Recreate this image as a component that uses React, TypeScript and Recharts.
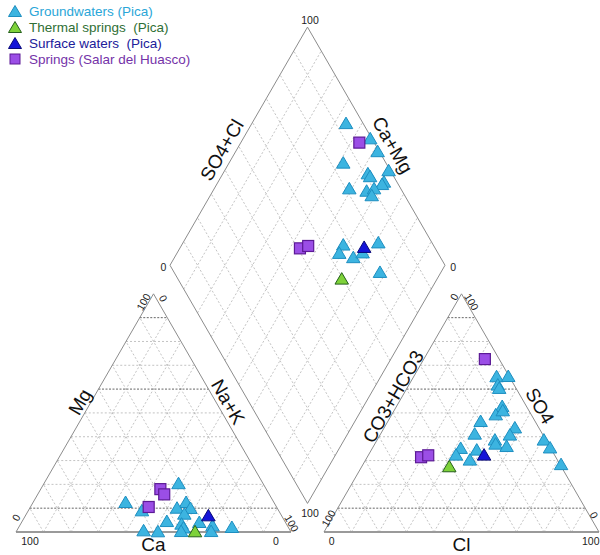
import React from "react";
import { ReferenceDot, ReferenceLine, Scatter, ScatterChart, XAxis, YAxis } from "recharts";

// ternary readings per group
// cations: [Mg, Na+K] %, anions: [SO4, Cl] %, diamond: [SO4+Cl, Ca+Mg] %
const groundCations = [
  [20.6, 48.8], [12.7, 33.5], [9.2, 41.2], [12.7, 55.5], [10.3, 53.4], [10.2, 58.3],
  [7.8, 57.3], [4.7, 52.5], [4.3, 64.5], [3.6, 58.4], [2.0, 59.9], [2.9, 70.0],
  [2.2, 77.4], [0.8, 46.0], [0.4, 51.4], [0.5, 70.7], [0.5, 59.8],
];
const groundAnions = [
  [65.5, 30.0], [65.6, 34.2], [62.0, 32.2], [60.6, 33.4], [53.0, 38.3], [49.5, 37.7],
  [51.2, 39.4], [46.7, 33.6], [44.0, 47.4], [41.0, 47.1], [41.4, 34.1], [38.9, 42.7],
  [37.2, 43.8], [36.2, 48.3], [38.9, 60.5], [35.6, 64.4], [35.4, 32.0], [32.6, 31.7],
  [34.7, 38.2], [30.5, 37.8], [28.6, 71.9],
];
const groundDiamond = [
  [93.9, 65.9], [99.5, 53.9], [99.5, 48.5], [84.6, 58.6], [99.5, 40.5], [91.3, 47.4],
  [91.5, 46.0], [95.4, 39.8], [94.2, 40.0], [81.4, 51.0], [87.2, 44.2], [90.4, 42.0],
  [88.1, 41.4], [67.4, 41.4], [64.2, 41.1], [68.4, 35.1], [72.8, 32.7], [80.6, 29.1],
  [75.0, 22.3],
];
const thermalCations = [[0.4, 64.9]];
const thermalAnions = [[27.7, 31.7]];
const thermalDiamond = [[59.7, 34.8]];
const surfaceCations = [[7.1, 66.4]];
const surfaceAnions = [[32.6, 41.9]];
const surfaceDiamond = [[74.5, 33.3]];
const springCations = [[18.0, 43.5], [15.8, 46.0], [10.5, 43.0]];
const springAnions = [[72.6, 22.2], [31.4, 19.6], [32.2, 21.8]];
const springDiamond = [[94.6, 56.9], [50.8, 56.3], [54.3, 53.8]];

const groupNames = ["Groundwaters (Pica)", "Thermal springs  (Pica)", "Surface waters  (Pica)", "Springs (Salar del Huasco)"];
const gridSteps = [10, 20, 30, 40, 50, 60, 70, 80, 90];
const darkSteps = [10, 60, 90];

const W = 600;
const H = 555;
const K = 2.75; // px per unit
const OX = 16;
const OY = 532;
const GAP = 12;
const S60 = Math.sqrt(3) / 2;
const FONT = "'Liberation Sans', Arial, sans-serif";

const cat = ([mg, nak]: number[]) => ({ x: nak + mg / 2, y: mg * S60 });
const ani = ([so4, cl]: number[]) => ({ x: 100 + GAP + cl + so4 / 2, y: so4 * S60 });
const dia = ([a, c]: number[]) => ({ x: 100 + GAP / 2 + (a - c) / 2, y: S60 * (GAP + a + c) });

const mk = (c: number[][], a: number[][], d: number[][]) => [...c.map(cat), ...a.map(ani), ...d.map(dia)];

const groups = [
  { name: groupNames[0], data: mk(groundCations, groundAnions, groundDiamond), shape: "tri", fill: "#3cb4e0", stroke: "#1d8ec0", text: "#2aa6d8" },
  { name: groupNames[3], data: mk(springCations, springAnions, springDiamond), shape: "sq", fill: "#9b4ee6", stroke: "#5c1a96", text: "#7432a8" },
  { name: groupNames[2], data: mk(surfaceCations, surfaceAnions, surfaceDiamond), shape: "tri", fill: "#1414d8", stroke: "#08087a", text: "#20209a" },
  { name: groupNames[1], data: mk(thermalCations, thermalAnions, thermalDiamond), shape: "tri", fill: "#7ed23a", stroke: "#25601c", text: "#2f6f35" },
];
const legendOrder = [0, 3, 2, 1];

type Seg = { a: { x: number; y: number }; b: { x: number; y: number }; kind: string };
const segs: Seg[] = [];
for (const ox of [0, 100 + GAP]) {
  for (const i of gridSteps) {
    const y = i * S60;
    segs.push({ a: { x: ox + i / 2, y }, b: { x: ox + 100 - i / 2, y }, kind: darkSteps.includes(i) ? "dark" : "grid" });
    segs.push({ a: { x: ox + i, y: 0 }, b: { x: ox + i + (100 - i) / 2, y: (100 - i) * S60 }, kind: "grid" });
    segs.push({ a: { x: ox + 100 - i, y: 0 }, b: { x: ox + (100 - i) / 2, y: (100 - i) * S60 }, kind: "grid" });
  }
  segs.push({ a: { x: ox, y: 0 }, b: { x: ox + 100, y: 0 }, kind: "base" });
  segs.push({ a: { x: ox, y: 0 }, b: { x: ox + 50, y: 100 * S60 }, kind: "edge" });
  segs.push({ a: { x: ox + 100, y: 0 }, b: { x: ox + 50, y: 100 * S60 }, kind: "edge" });
}
for (const i of gridSteps) {
  segs.push({ a: dia([i, 0]), b: dia([i, 100]), kind: "grid" });
  segs.push({ a: dia([0, i]), b: dia([100, i]), kind: "grid" });
}
segs.push({ a: dia([0, 0]), b: dia([100, 0]), kind: "edge" });
segs.push({ a: dia([0, 0]), b: dia([0, 100]), kind: "edge" });
segs.push({ a: dia([100, 0]), b: dia([100, 100]), kind: "edge" });
segs.push({ a: dia([0, 100]), b: dia([100, 100]), kind: "edge" });

const segStyle: Record<string, any> = {
  grid: { stroke: "#b4b4b4", strokeWidth: 0.8, strokeDasharray: "2 2" },
  dark: { stroke: "#555", strokeWidth: 0.9, strokeDasharray: "2 1.5" },
  edge: { stroke: "#8c8c8c", strokeWidth: 1 },
  base: { stroke: "#9a9a9a", strokeWidth: 2 },
};

// annotation positions in plot units
const titles = [
  { t: "Ca", x: 50, y: -4.6, r: 0 },
  { t: "Cl", x: 162, y: -4.6, r: 0 },
  { t: "Mg", x: 23.3, y: 47.3, r: -60 },
  { t: "Na+K", x: 77.1, y: 47.3, r: 60 },
  { t: "CO3+HCO3", x: 137.2, y: 49.2, r: -60 },
  { t: "SO4", x: 190.5, y: 45.8, r: 60 },
  { t: "SO4+Cl", x: 74.9, y: 138.9, r: -60 },
  { t: "Ca+Mg", x: 136.9, y: 140.7, r: 60 },
];
const ticks = [
  { t: "100", x: 106.9, y: 186.2, r: 0 },
  { t: "0", x: 53.6, y: 96.5, r: 0 },
  { t: "0", x: 159, y: 96.5, r: 0 },
  { t: "100", x: 106.9, y: 6.8, r: 0 },
  { t: "100", x: 46.3, y: 83.7, r: -60 },
  { t: "0", x: 53.6, y: 85.0, r: 60 },
  { t: "0", x: 0, y: 5.3, r: -60 },
  { t: "100", x: 100.3, y: 3.2, r: 60 },
  { t: "100", x: 5.1, y: -3.2, r: 0 },
  { t: "0", x: 94.5, y: -3.2, r: 0 },
  { t: "0", x: 159.3, y: 85.6, r: -60 },
  { t: "100", x: 165.7, y: 83.7, r: 60 },
  { t: "100", x: 113.6, y: 5, r: -60 },
  { t: "0", x: 210.2, y: 6.2, r: 60 },
  { t: "0", x: 114.8, y: -3.3, r: 0 },
  { t: "100", x: 209.0, y: -3.3, r: 0 },
];

const textShape = (t: string, r: number, size: number, fill: string) => (p: any) => (
  <text
    x={p.cx}
    y={p.cy}
    transform={`rotate(${r} ${p.cx} ${p.cy})`}
    textAnchor="middle"
    dominantBaseline="central"
    fontSize={size}
    fontFamily={FONT}
    fill={fill}
  >
    {t}
  </text>
);

const markShape = (g: any) => (p: any) => {
  const { cx, cy } = p;
  if (g.shape === "sq") {
    return <rect x={cx - 5.5} y={cy - 5.5} width={11} height={11} fill={g.fill} stroke={g.stroke} strokeWidth={1.2} />;
  }
  const s = 13.5;
  const h = 11.5;
  return (
    <polygon
      points={`${cx - s / 2},${cy + h / 2} ${cx + s / 2},${cy + h / 2} ${cx},${cy - h / 2}`}
      fill={g.fill}
      stroke={g.stroke}
      strokeWidth={1}
      strokeLinejoin="round"
    />
  );
};

function LegendBox() {
  return (
    <div style={{ position: "absolute", left: 0, top: 3, fontFamily: FONT, fontSize: 13.5 }}>
      {legendOrder.map((gi) => {
        const g = groups[gi];
        return (
          <div key={g.name} style={{ display: "flex", alignItems: "center", height: 16, whiteSpace: "pre" }}>
            <svg width={29} height={16}>
              {g.shape === "sq" ? (
                <rect x={10} y={3} width={10} height={10} fill={g.fill} stroke={g.stroke} strokeWidth={1} />
              ) : (
                <polygon points="8.5,13.5 21.5,13.5 15,2.5" fill={g.fill} stroke={g.stroke} strokeWidth={1} />
              )}
            </svg>
            <span style={{ color: g.text }}>{g.name}</span>
          </div>
        );
      })}
    </div>
  );
}

export default function App() {
  const xDomain = [-OX / K, (W - OX) / K];
  const yDomain = [-(H - OY) / K, OY / K];
  return (
    <div style={{ position: "absolute", left: 0, top: 0, width: W, height: H, background: "#fff" }}>
      <ScatterChart width={W} height={H} margin={{ top: 0, right: 0, bottom: 0, left: 0 }}>
        <XAxis type="number" dataKey="x" domain={xDomain} allowDataOverflow hide />
        <YAxis type="number" dataKey="y" domain={yDomain} allowDataOverflow hide />
        {segs.map((s, i) => (
          <ReferenceLine key={"s" + i} segment={[s.a, s.b]} {...segStyle[s.kind]} />
        ))}
        {titles.map((l, i) => (
          <ReferenceDot key={"t" + i} x={l.x} y={l.y} r={0} shape={textShape(l.t, l.r, 19, "#111")} />
        ))}
        {ticks.map((l, i) => (
          <ReferenceDot key={"k" + i} x={l.x} y={l.y} r={0} shape={textShape(l.t, l.r, 10.5, "#222")} />
        ))}
        {groups.map((g) => (
          <Scatter key={g.name} name={g.name} data={g.data} shape={markShape(g)} isAnimationActive={false} />
        ))}
      </ScatterChart>
      <LegendBox />
    </div>
  );
}
